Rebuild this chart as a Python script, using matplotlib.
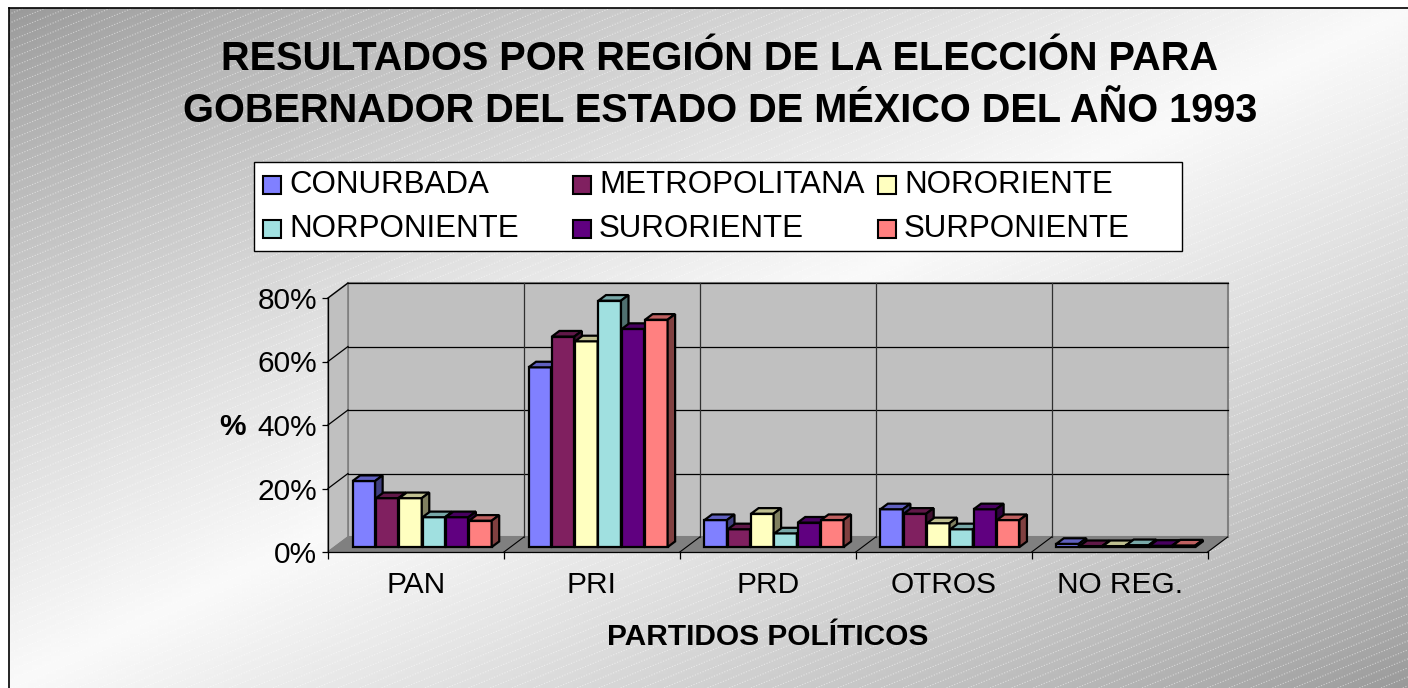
import numpy as np
import matplotlib
matplotlib.use('Agg')
import matplotlib.pyplot as plt
from matplotlib.patches import Polygon, Rectangle
from matplotlib.colors import to_rgb

plt.rcParams['font.family'] = ['Liberation Sans', 'DejaVu Sans']

# --- data (percent of vote per region) ---
partidos = ['PAN', 'PRI', 'PRD', 'OTROS', 'NO REG.']
regiones = ['CONURBADA', 'METROPOLITANA', 'NORORIENTE',
            'NORPONIENTE', 'SURORIENTE', 'SURPONIENTE']
conurbada = [20.8, 56.6, 8.5, 11.9, 1.0]
metropolitana = [15.4, 66.3, 5.6, 10.5, 0.3]
nororiente = [15.4, 64.8, 10.5, 7.5, 0.3]
norponiente = [9.4, 77.6, 4.3, 5.6, 0.6]
suroriente = [9.4, 68.7, 7.7, 11.9, 0.4]
surponiente = [8.3, 71.6, 8.5, 8.5, 0.5]
series = [conurbada, metropolitana, nororiente, norponiente, suroriente, surponiente]
colores = ['#8080FF', '#802060', '#FFFFC0', '#A0E0E0', '#600080', '#FF8080']
yticks = [0, 20, 40, 60, 80]

titulo = ('RESULTADOS POR REGIÓN DE LA ELECCIÓN PARA\n'
          'GOBERNADOR DEL ESTADO DE MÉXICO DEL AÑO 1993')

W, H = 1408, 688
fig = plt.figure(figsize=(W / 100, H / 100), dpi=100)

# background: diagonal gradient with dotted hatch (pixel coordinates)
bg = fig.add_axes([0, 0, 1, 1])
bg.axis('off')
gx, gy = np.meshgrid(np.linspace(0, 1, 300), np.linspace(0, 1, 150))
t = 1 - np.abs(gx + gy - 1)
g = 0.60 + 0.38 * t ** 0.8
bg.imshow(np.dstack([g, g, g]), extent=(9, W, H, 8), aspect='auto', zorder=0)
slope = np.tan(np.radians(22.5))
for c in np.arange(0, H + W * slope + 10, 9):
    bg.plot([9, W], [c - 9 * slope, c - W * slope], color='white', alpha=0.5,
            lw=0.8, ls=(0, (1, 1.5)), zorder=1)
bg.plot([9, W], [8, 8], color='black', lw=1.2, zorder=2)
bg.plot([9, 9], [8, H], color='black', lw=1.2, zorder=2)
bg.set_xlim(0, W)
bg.set_ylim(H, 0)

# legend drawn by hand, rows like the original
bg.add_patch(Rectangle((254, 162), 928, 89, facecolor='white', edgecolor='black',
                       lw=1.0, zorder=3))
col_x = [263, 573, 878]
row_y = [185, 229]
for k, (nombre, col) in enumerate(zip(regiones, colores)):
    lx, ly = col_x[k % 3], row_y[k // 3]
    bg.add_patch(Rectangle((lx, ly - 9), 18, 18, facecolor=col, edgecolor='black',
                           lw=1.5, zorder=4))
    bg.text(lx + 26, ly, nombre, fontsize=22.5, va='center', ha='left', zorder=4)

# main plot area (front plane)
x0p, x1p, y0p, y1p = 328, 1207.6, 552, 298
ax = fig.add_axes([x0p / W, (H - y0p) / H, (x1p - x0p) / W, (y0p - y1p) / H])
ax.set_xlim(0, 5)
ax.set_ylim(0, 80)
ax.patch.set_visible(False)

pxu = (x1p - x0p) / 5
pyu = (y0p - y1p) / 80
dx, dy = 20 / pxu, 15 / pyu          # wall depth
bdx, bdy = 7.5 / pxu, 5.6 / pyu      # bar depth
fx, fy = 0.33 * dx, 0.33 * dy        # bar front position in depth
wall = '#C0C0C0'

# walls and floor
ax.add_patch(Polygon([(dx, dy), (5 + dx, dy), (5 + dx, 80 + dy), (dx, 80 + dy)],
                     facecolor=wall, edgecolor='#808080', lw=1.5, zorder=1, clip_on=False))
ax.add_patch(Polygon([(0, 0), (0, 80), (dx, 80 + dy), (dx, dy)],
                     facecolor=wall, edgecolor='#808080', lw=1.2, zorder=1, clip_on=False))
ax.add_patch(Polygon([(0, 0), (5, 0), (5 + dx, dy), (dx, dy)],
                     facecolor='#808080', edgecolor='#808080', lw=0.8, zorder=2, clip_on=False))
for v in yticks[1:]:
    ax.plot([dx, 5 + dx], [v + dy, v + dy], color='black', lw=0.9, zorder=2, clip_on=False)
    ax.plot([0, dx], [v, v + dy], color='black', lw=0.9, zorder=2, clip_on=False)
for i in range(1, 5):
    ax.plot([i + dx, i + dx], [dy, 80 + dy], color='#303030', lw=0.9, zorder=2, clip_on=False)
for i in range(1, 6):
    ax.plot([i, i + dx], [0, dy], color='black', lw=0.8, zorder=3, clip_on=False)

# bars: front face via ax.bar, top and side faces as polygons
off, step, bw = 0.14 - fx, 0.1325, 0.128
xc = np.arange(len(partidos))
for s, (vals, col) in enumerate(zip(series, colores)):
    xs = xc + off + fx + s * step
    ax.bar(xs, vals, width=bw, bottom=fy, align='edge', color=col,
           edgecolor='black', lw=1.6, zorder=10 + 2 * s, clip_on=False)
    rgb = np.array(to_rgb(col))
    for x, v in zip(xs, vals):
        top = fy + v
        ax.add_patch(Polygon([(x, top), (x + bw, top), (x + bw + bdx, top + bdy), (x + bdx, top + bdy)],
                             facecolor=rgb * 0.75, edgecolor='black', lw=1.6,
                             zorder=11 + 2 * s, clip_on=False))
        ax.add_patch(Polygon([(x + bw, fy), (x + bw, top), (x + bw + bdx, top + bdy), (x + bw + bdx, fy + bdy)],
                             facecolor=rgb * 0.5, edgecolor='black', lw=1.6,
                             zorder=11 + 2 * s, clip_on=False))

# axes, ticks
for side in ['top', 'right']:
    ax.spines[side].set_visible(False)
for side in ['left', 'bottom']:
    ax.spines[side].set_color('black')
    ax.spines[side].set_linewidth(0.9)
    ax.spines[side].set_zorder(5)
ax.set_yticks(yticks)
ax.set_yticklabels([f'{v}%' for v in yticks], fontsize=21.5)
ax.tick_params(axis='y', length=4, width=0.9, pad=4)
ax.set_xticks(xc + 0.5)
ax.set_xticklabels(partidos, fontsize=21.5)
ax.set_xticks(np.arange(6), minor=True)
ax.tick_params(axis='x', which='major', length=0, pad=14)
ax.tick_params(axis='x', which='minor', length=5, width=0.9)

fig.text(232 / W, 1 - 427 / H, '%', fontsize=21.5, fontweight='bold', ha='center', va='center')
fig.text(768 / W, 1 - 637 / H, 'PARTIDOS POLÍTICOS', fontsize=21.5, fontweight='bold',
         ha='center', va='center')
fig.text(720 / W, 1 - 85 / H, titulo, fontsize=28.6, fontweight='bold', ha='center',
         va='center', linespacing=1.5)

fig.savefig('out.png', dpi=100)
